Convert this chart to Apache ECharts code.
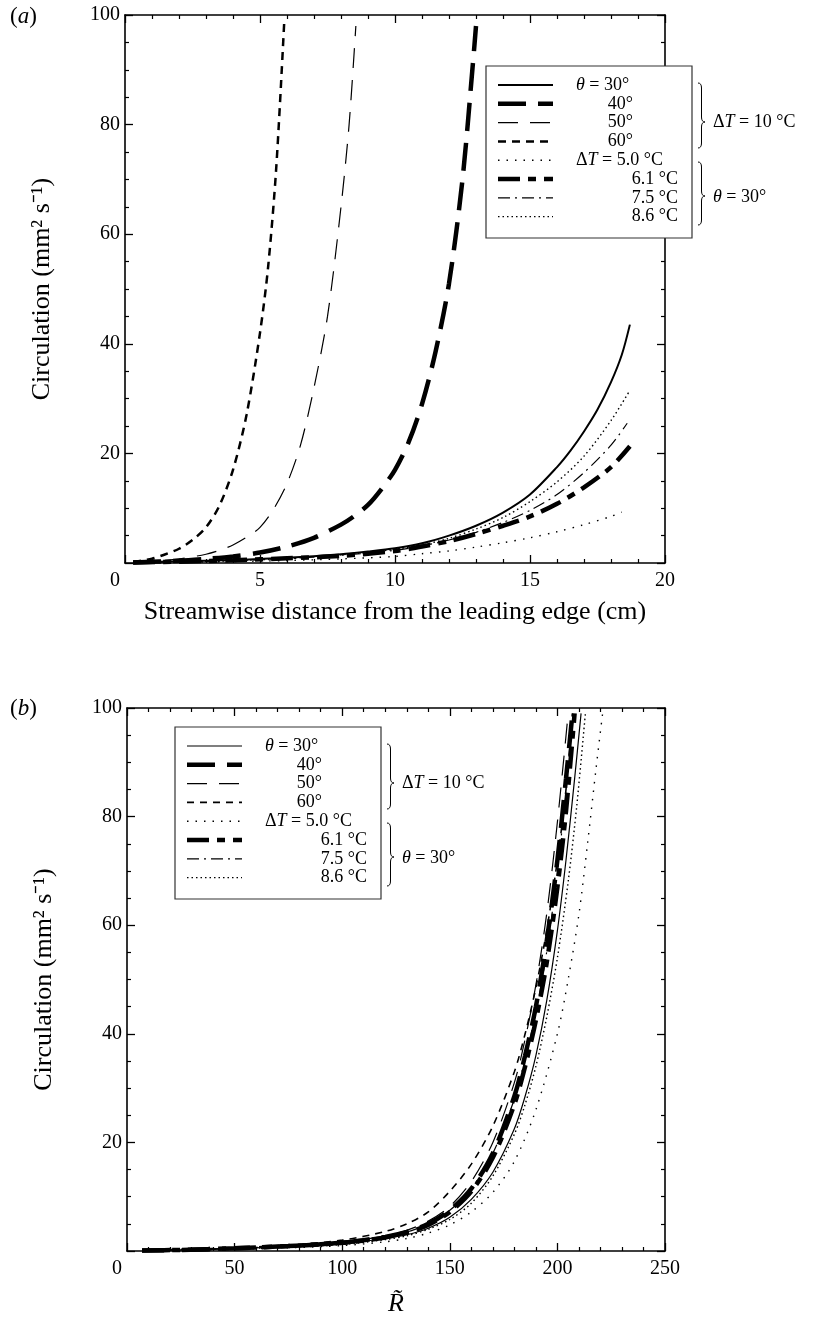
<!DOCTYPE html>
<html>
<head>
<meta charset="utf-8">
<script src="https://cdn.jsdelivr.net/npm/echarts@6/dist/echarts.min.js"></script>
<style>
  html, body { margin: 0; padding: 0; background: #fff; }
  #chart { width: 813px; height: 1318px; }
</style>
</head>
<body>
<div id="chart"></div>
<script>
// ---- Panel (a): circulation vs streamwise distance (cm) ----
const a_theta30 = [[0.3,0.15],[2,0.3],[4,0.55],[6,0.95],[8,1.6],[9,2.1],[10,2.7],[11,3.6],[12,5.0],[13,6.8],[14,9.2],[15,12.5],[16,17.5],[16.5,20.5],[17,24],[17.5,28],[18,33],[18.4,38],[18.7,43.5]];
const a_theta40 = [[0.3,0.1],[2,0.4],[3,0.75],[4,1.2],[5,1.9],[6,3.0],[7,4.6],[8,7.0],[8.5,8.6],[9,10.6],[9.5,13.5],[10,17],[10.5,22],[11,29],[11.5,38.5],[12,51],[12.5,70],[12.9,92],[13,98]];
const a_theta50 = [[0.3,0.1],[1,0.3],[2,0.75],[3,1.6],[3.5,2.3],[4,3.3],[4.5,4.7],[5,6.5],[5.5,9.8],[6,14.5],[6.5,21.5],[7,32],[7.5,45],[8,65],[8.3,80],[8.55,98]];
const a_theta60 = [[0.3,0.15],[1,0.8],[1.5,1.6],[2,2.6],[2.5,4.2],[3,6.5],[3.5,10.5],[4,17],[4.5,27],[5,42],[5.3,54],[5.6,72],[5.9,99]];
const a_dT50 = [[0.3,0.05],[3,0.2],[6,0.45],[8,0.75],[10,1.2],[11,1.7],[12,2.2],[13,2.9],[14,3.7],[15,4.6],[16,5.7],[17,7.0],[18,8.5],[18.4,9.3]];
const a_dT61 = [[0.3,0.1],[2,0.25],[4,0.5],[6,0.85],[8,1.3],[10,2.2],[11,3.0],[12,4.0],[13,5.3],[14,6.8],[15,8.5],[16,10.8],[17,13.8],[18,17.5],[18.7,21.3]];
const a_dT75 = [[0.3,0.1],[3,0.3],[6,0.8],[8,1.4],[10,2.3],[11,3.1],[12,4.2],[13,5.6],[14,7.4],[15,9.6],[16,12.5],[17,16.5],[18,21.5],[18.6,25.5]];
const a_dT86 = [[0.3,0.1],[3,0.3],[6,0.8],[8,1.5],[10,2.5],[11,3.3],[12,4.5],[13,6.2],[14,8.3],[15,11.2],[16,14.8],[17,19.5],[18,26],[18.7,31.5]];

// ---- Panel (b): circulation vs R~ ----
const b_theta30 = [[7,0.1],[25,0.2],[50,0.45],[75,0.8],[100,1.3],[120,2.3],[130,3.0],[140,4.2],[150,6.2],[160,9.5],[170,14.5],[180,22.5],[185,28.5],[190,36],[195,46],[200,59],[204,72],[208,87],[211,99]];
const b_theta40 = [[7,0.1],[25,0.2],[50,0.5],[75,0.9],[100,1.5],[120,2.6],[130,3.5],[140,5.0],[150,7.5],[160,11.5],[170,18],[180,28.5],[185,36],[190,45],[195,57],[200,72],[204,87],[207,99]];
const b_theta50 = [[7,0.1],[25,0.2],[50,0.5],[75,0.9],[100,1.6],[120,2.8],[130,3.8],[140,5.5],[150,8.2],[160,12.8],[170,20],[180,31],[185,39],[190,49],[195,62],[200,79],[205,99]];
const b_theta60 = [[7,0.15],[25,0.3],[50,0.6],[75,1.1],[100,2.0],[120,3.6],[130,5.0],[140,7.2],[150,11],[160,16],[170,23],[180,33],[185,40],[190,48.5],[195,59],[200,72],[204,85],[207,99]];
const b_dT50 = [[7,0.05],[25,0.1],[50,0.3],[75,0.6],[100,1.0],[120,1.7],[130,2.3],[140,3.3],[150,4.8],[160,7.2],[170,10.8],[180,16.5],[190,26],[200,40],[205,50],[210,62],[214,75],[218,89],[221,99]];
const b_dT61 = [[7,0.1],[25,0.2],[50,0.5],[75,0.9],[100,1.5],[120,2.5],[130,3.4],[140,4.8],[150,7.2],[160,11],[170,17.2],[180,27],[185,34],[190,42.5],[195,53],[200,67],[204,81],[208,99]];
const b_dT75 = [[7,0.1],[25,0.2],[50,0.5],[75,0.9],[100,1.5],[120,2.6],[130,3.5],[140,5.0],[150,7.5],[160,11.5],[170,18],[180,28],[185,35.5],[190,44],[195,55],[200,70],[204,85],[207,99]];
const b_dT86 = [[7,0.1],[25,0.2],[50,0.4],[75,0.75],[100,1.2],[120,2.1],[130,2.8],[140,4.0],[150,5.8],[160,8.8],[170,13.8],[180,21.5],[185,27],[190,34],[195,43],[200,54],[205,68],[209,82],[213,99]];

// ---- axis ticks ----
const aXTicks = { min: 0, max: 20, interval: 5 };
const bXTicks = { min: 0, max: 250, interval: 50 };
const yTicks = { min: 0, max: 100, interval: 20 };

// ---- legend entries (same order in both panels) ----
const legendLabels = [
  '{i|θ} = 30°', '40°', '50°', '60°',
  'Δ{i|T} = 5.0 °C', '6.1 °C', '7.5 °C', '8.6 °C'
];

const FONT = '"Liberation Serif", "Times New Roman", serif';

// line styles: [width, dash pattern] for each curve, per panel
const stylesA = [
  { w: 2.0, dash: 'solid' },
  { w: 4.5, dash: [28, 12] },
  { w: 1.2, dash: [20, 12] },
  { w: 2.5, dash: [8, 6] },
  { w: 1.4, dash: [1.5, 7] },
  { w: 4.5, dash: [22, 8, 8, 8] },
  { w: 1.2, dash: [12, 5, 2, 5] },
  { w: 1.4, dash: [1.5, 3] }
];
const stylesB = [
  { w: 1.2, dash: 'solid' },
  { w: 4.5, dash: [28, 12] },
  { w: 1.2, dash: [20, 12] },
  { w: 1.6, dash: [7, 6] },
  { w: 1.4, dash: [1.5, 7] },
  { w: 4.5, dash: [22, 8, 8, 8] },
  { w: 1.2, dash: [12, 5, 2, 5] },
  { w: 1.4, dash: [1.5, 3] }
];

const seriesA = [a_theta30, a_theta40, a_theta50, a_theta60, a_dT50, a_dT61, a_dT75, a_dT86];
const seriesB = [b_theta30, b_theta40, b_theta50, b_theta60, b_dT50, b_dT61, b_dT75, b_dT86];

const chart = echarts.init(document.getElementById('chart'), null, { renderer: 'canvas' });

const axisLine = { show: true, onZero: false, lineStyle: { color: '#000', width: 1.6 } };
const tickLabel = { color: '#000', fontFamily: FONT, fontSize: 20 };
const titleStyle = { color: '#000', fontFamily: FONT, fontSize: 26 };

function xAxisPair(grid, t, name, nameGap) {
  const base = {
    gridIndex: grid, type: 'value', min: t.min, max: t.max, interval: t.interval,
    axisLine: axisLine, splitLine: { show: false },
    axisTick: { show: true, inside: true, length: 8, lineStyle: { color: '#000', width: 1.3 } },
    minorTick: { show: true, splitNumber: 5, length: 4, lineStyle: { color: '#000', width: 1.2 } },
    minorSplitLine: { show: false }
  };
  return [
    Object.assign({}, base, {
      position: 'bottom',
      axisLabel: {
        show: true, margin: 8, color: '#000', fontFamily: FONT, fontSize: 20,
        formatter: v => v === 0 ? '{z|0}' : String(v),
        rich: { z: { fontFamily: FONT, fontSize: 20, color: '#000', padding: [0, 20, 0, 0] } }
      },
      name: name, nameLocation: 'middle', nameGap: nameGap,
      nameTextStyle: Object.assign({}, titleStyle,
        { rich: { i: { fontStyle: 'italic', fontFamily: FONT, fontSize: 26, color: '#000' } } })
    }),
    Object.assign({}, base, { position: 'top', axisLabel: { show: false } })
  ];
}

function yAxisPair(grid, t) {
  const base = {
    gridIndex: grid, type: 'value', min: t.min, max: t.max, interval: t.interval,
    axisLine: axisLine, splitLine: { show: false },
    axisTick: { show: true, inside: true, length: 8, lineStyle: { color: '#000', width: 1.3 } },
    minorTick: { show: true, splitNumber: 4, length: 4, lineStyle: { color: '#000', width: 1.2 } },
    minorSplitLine: { show: false }
  };
  return [
    Object.assign({}, base, {
      position: 'left',
      axisLabel: Object.assign({ show: true, margin: 5, formatter: v => v === 0 ? '' : String(v) }, tickLabel),
      name: 'Circulation (mm² s⁻¹)', nameLocation: 'middle', nameGap: 70, nameRotate: 90,
      nameTextStyle: titleStyle
    }),
    Object.assign({}, base, { position: 'right', axisLabel: { show: false } })
  ];
}

const xAxes = [].concat(
  xAxisPair(0, aXTicks, 'Streamwise distance from the leading edge (cm)', 36),
  xAxisPair(1, bXTicks, '{i|R̃}', 40)
);
const yAxes = [].concat(yAxisPair(0, yTicks), yAxisPair(1, yTicks));

function makeSeries(list, styles, xi, yi) {
  return list.map((d, k) => ({
    type: 'line', data: d, xAxisIndex: xi, yAxisIndex: yi,
    showSymbol: false, symbol: 'none', smooth: 0.3,
    silent: true, animation: false, clip: true,
    lineStyle: { color: '#000', width: styles[k].w, type: styles[k].dash, cap: 'butt' }
  }));
}

// ---- legend box, samples, labels and braces, built as graphics ----
function brace(x0, y0, y1, ym, w) {
  const xm = x0 + w / 2, xt = x0 + w, r = 5;
  const st = { stroke: '#000', lineWidth: 1, fill: 'none' };
  return [
    { type: 'bezierCurve', shape: { x1: x0, y1: y0, cpx1: xm, cpy1: y0, x2: xm, y2: y0 + r }, style: st },
    { type: 'line', shape: { x1: xm, y1: y0 + r, x2: xm, y2: ym - r }, style: st },
    { type: 'bezierCurve', shape: { x1: xm, y1: ym - r, cpx1: xm, cpy1: ym, x2: xt, y2: ym }, style: st },
    { type: 'bezierCurve', shape: { x1: xt, y1: ym, cpx1: xm, cpy1: ym, x2: xm, y2: ym + r }, style: st },
    { type: 'line', shape: { x1: xm, y1: ym + r, x2: xm, y2: y1 - r }, style: st },
    { type: 'bezierCurve', shape: { x1: xm, y1: y1 - r, cpx1: xm, cpy1: y1, x2: x0, y2: y1 }, style: st }
  ];
}

function legendGroup(ox, oy, styles) {
  const els = [];
  els.push({ type: 'rect', shape: { x: ox, y: oy, width: 206, height: 172 },
    style: { fill: '#fff', stroke: '#333', lineWidth: 1.2 }, z: 100 });
  const rich = { i: { fontStyle: 'italic', fontFamily: FONT, fontSize: 18, fill: '#000' } };
  for (let k = 0; k < 8; k++) {
    const y = oy + 19 + k * 18.8;
    const s = styles[k];
    els.push({ type: 'line', z: 101,
      shape: { x1: ox + 12, y1: y, x2: ox + 67, y2: y },
      style: { stroke: '#000', lineWidth: s.w, lineDash: s.dash === 'solid' ? null : s.dash } });
    let x, align;
    if (k === 0 || k === 4) { x = ox + 90; align = 'left'; }
    else if (k < 4) { x = ox + 147; align = 'right'; }
    else { x = ox + 192; align = 'right'; }
    els.push({ type: 'text', z: 101, x: x, y: y,
      style: { text: legendLabels[k], align: align, verticalAlign: 'middle',
        fontFamily: FONT, fontSize: 18, fill: '#000', rich: rich } });
  }
  const bx = ox + 212;
  brace(bx, oy + 17, oy + 82, oy + 56, 7).forEach(e => { e.z = 101; els.push(e); });
  brace(bx, oy + 96, oy + 159, oy + 130, 7).forEach(e => { e.z = 101; els.push(e); });
  els.push({ type: 'text', z: 101, x: bx + 15, y: oy + 56,
    style: { text: 'Δ{i|T} = 10 °C', verticalAlign: 'middle', fontFamily: FONT, fontSize: 18, fill: '#000', rich: rich } });
  els.push({ type: 'text', z: 101, x: bx + 15, y: oy + 131,
    style: { text: '{i|θ} = 30°', verticalAlign: 'middle', fontFamily: FONT, fontSize: 18, fill: '#000', rich: rich } });
  return els;
}

const panelRich = { i: { fontStyle: 'italic', fontFamily: FONT, fontSize: 23, fill: '#000' } };

const option = {
  backgroundColor: '#fff',
  animation: false,
  grid: [
    { left: 125, top: 15, width: 540, height: 548 },
    { left: 127, top: 708, width: 538, height: 545 }
  ],
  xAxis: xAxes,
  yAxis: yAxes,
  series: [].concat(makeSeries(seriesA, stylesA, 0, 0), makeSeries(seriesB, stylesB, 2, 2)),
  graphic: [].concat(
    [
      { type: 'text', x: 10, y: 5, style: { text: '({i|a})', fontFamily: FONT, fontSize: 23, fill: '#000', rich: panelRich } },
      { type: 'text', x: 10, y: 697, style: { text: '({i|b})', fontFamily: FONT, fontSize: 23, fill: '#000', rich: panelRich } }
    ],
    legendGroup(486, 66, stylesA),
    legendGroup(175, 727, stylesB)
  )
};

chart.setOption(option);
</script>
</body>
</html>
